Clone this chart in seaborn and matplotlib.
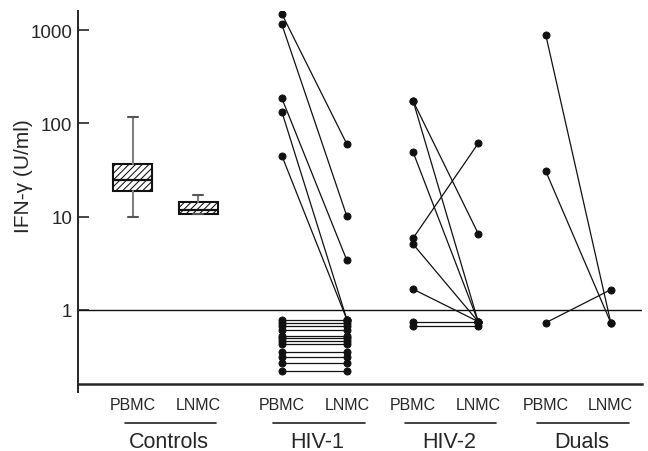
import matplotlib
matplotlib.use("Agg")
import matplotlib.pyplot as plt
import matplotlib.transforms as mtransforms
from matplotlib.ticker import NullLocator
import seaborn as sns
import pandas as pd

groups = ["Controls", "HIV-1", "HIV-2", "Duals"]
cells = ["PBMC", "LNMC"]
group_x = [0.0, 2.29, 4.31, 6.35]  # PBMC position of each pair, LNMC sits at +1

# controls are only shown as box summaries
ctrl_pbmc = dict(whislo=10, q1=18.9, med=25, q3=36.7, whishi=117)
ctrl_lnmc = dict(whislo=10.7, q1=10.7, med=11.8, q3=14.4, whishi=17.2)

# paired patient values (PBMC -> LNMC)
hiv1_pbmc = [1490, 1150, 186, 133, 45,
             0.79, 0.73, 0.67, 0.61, 0.53, 0.50, 0.46, 0.43, 0.35, 0.31, 0.27, 0.22]
hiv1_lnmc = [60, 10.1, 3.4, 0.79, 0.79,
             0.79, 0.73, 0.67, 0.61, 0.53, 0.50, 0.46, 0.43, 0.35, 0.31, 0.27, 0.22]

hiv2_pbmc = [173, 173, 49, 5.9, 5.06, 1.67, 0.75, 0.67]
hiv2_lnmc = [6.6, 0.75, 0.75, 61, 0.75, 0.75, 0.75, 0.67]

dual_pbmc = [885, 30.7, 0.73]
dual_lnmc = [0.73, 0.73, 1.65]

paired = {"HIV-1": (hiv1_pbmc, hiv1_lnmc),
          "HIV-2": (hiv2_pbmc, hiv2_lnmc),
          "Duals": (dual_pbmc, dual_lnmc)}

rows = []
for g, (pb, ln) in paired.items():
    x0 = group_x[groups.index(g)]
    for i, (a, b) in enumerate(zip(pb, ln)):
        sid = f"{g}-{i}"
        rows.append({"subject": sid, "group": g, "cell": "PBMC", "x": x0, "value": a})
        rows.append({"subject": sid, "group": g, "cell": "LNMC", "x": x0 + 1, "value": b})
df = pd.DataFrame(rows)

sns.set_style("ticks")
plt.rcParams["font.family"] = ["Liberation Sans", "DejaVu Sans"]
plt.rcParams["hatch.linewidth"] = 0.75

fig = plt.figure(figsize=(6.48, 4.52), dpi=100)
ax = fig.add_axes([78 / 648, 59 / 452, 564 / 648, 381 / 452])
ax.set_yscale("log")

# control boxes
ax.bxp([ctrl_pbmc, ctrl_lnmc], positions=[group_x[0], group_x[0] + 1], widths=0.6,
       capwidths=0.15, patch_artist=True, showfliers=False,
       boxprops=dict(facecolor="white", edgecolor="#111111", linewidth=1.5, hatch="/////"),
       medianprops=dict(color="#111111", linewidth=1.6),
       whiskerprops=dict(color="#7f7f7f", linewidth=1.5),
       capprops=dict(color="#555555", linewidth=1.5))

# paired lines
sns.lineplot(data=df, x="x", y="value", units="subject", estimator=None, sort=False,
             color="#111111", linewidth=0.9, marker="o", markersize=5,
             markeredgecolor="#111111", legend=False, ax=ax)

ax.axhline(1, color="#111111", linewidth=1.0)

ax.set_xlim(-0.846, 7.83)
ax.set_ylim(0.132, 1603)

ticks_x = []
tick_lbl = []
for x0 in group_x:
    ticks_x += [x0, x0 + 1]
    tick_lbl += cells
ax.set_xticks(ticks_x)
ax.set_xticklabels(tick_lbl)
ax.tick_params(axis="x", length=0, pad=9.5, labelsize=11.5)

ax.set_yticks([1, 10, 100, 1000])
ax.set_yticklabels(["1", "10", "100", "1000"])
ax.yaxis.set_minor_locator(NullLocator())
ax.tick_params(axis="y", direction="in", length=8, width=1.2, pad=4, labelsize=13.5)

ax.set_xlabel("")
ax.set_ylabel("IFN-γ (U/ml)", fontsize=15)
ax.yaxis.set_label_coords(-0.08, 0.57)

for s in ["top", "right"]:
    ax.spines[s].set_visible(False)
ax.spines["left"].set_linewidth(1.4)
ax.spines["bottom"].set_linewidth(1.8)
ax.spines["bottom"].set_position(("data", 0.161))

# group labels with underline
trans = mtransforms.blended_transform_factory(ax.transData, ax.transAxes)
for g, x0 in zip(groups, group_x):
    ax.plot([x0 - 0.13, x0 + 1.28], [-0.0814, -0.0814], transform=trans,
            color="#222222", linewidth=1.2, clip_on=False)
    ax.text(x0 + 0.55, -0.129, g, transform=trans, ha="center", va="center", fontsize=15.5)

fig.savefig("out.png", dpi=100)
